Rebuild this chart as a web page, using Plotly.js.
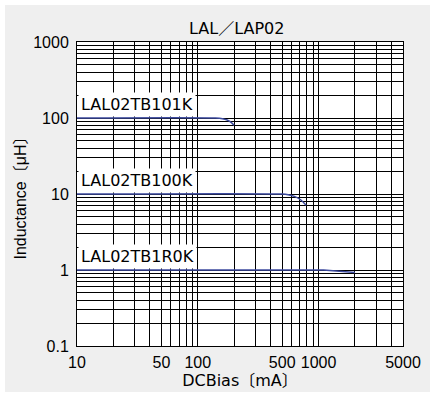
<!DOCTYPE html>
<html>
<head>
<meta charset="utf-8">
<script src="https://cdn.plot.ly/plotly-3.0.1.min.js"></script>
<style>
html,body{margin:0;padding:0;background:#ffffff;}
#chart{position:absolute;left:5px;top:5px;width:425px;height:387px;}
</style>
</head>
<body>
<div id="chart"></div>
<script>
// ---- data ----
const chartTitle = "LAL／LAP02";
const xTitle = "DCBias〔mA〕";
const yTitle = "Inductance〔μH〕";

const xTickVals = [10,20,30,40,50,60,70,80,90,100,200,300,400,500,600,700,800,900,1000,2000,3000,4000,5000];
const xTickText = ["10","","","","50","","","","","100","","","","500","","","","","1000","","","","5000"];

const yTickVals = [0.1,0.2,0.3,0.4,0.5,0.6,0.7,0.8,0.9,1,2,3,4,5,6,7,8,9,10,20,30,40,50,60,70,80,90,100,200,300,400,500,600,700,800,900,1000];
const yTickText = ["0.1","","","","","","","","","1","","","","","","","","","10","","","","","","","","","100","","","","","","","","","1000"];

const seriesNames = ["LAL02TB101K","LAL02TB100K","LAL02TB1R0K"];
const current101K = [10,140,160,175,190,200];
const induct101K  = [100,100,98,94,87,80];
const current100K = [10,500,560,630,710,790];
const induct100K  = [10,10,9.8,9.3,8.4,7.1];
const current1R0K = [10,1100,2000];
const induct1R0K  = [1,1,0.93];

// ---- chart ----
const lineColor = "#3c4a9e";
const txtFont = "DejaVu Sans, Noto Sans CJK JP, sans-serif";
const tickFont = "Liberation Sans, Arial, Noto Sans CJK JP, sans-serif";

const series = [
  {x: current101K, y: induct101K, shape: "spline"},
  {x: current100K, y: induct100K, shape: "spline"},
  {x: current1R0K, y: induct1R0K, shape: "linear"}
];

const traces = series.map((s, i) => ({
  type: "scatter", mode: "lines", name: seriesNames[i],
  x: s.x, y: s.y,
  line: {color: lineColor, width: 1.5, shape: s.shape, smoothing: 0.6},
  hoverinfo: "skip", showlegend: false
}));

const annotations = series.map((s, i) => ({
  xref: "x", yref: "y",
  x: Math.log10(s.x[0]), y: Math.log10(s.y[0]),
  xanchor: "left", yanchor: "bottom",
  xshift: 1, yshift: 1,
  text: seriesNames[i], showarrow: false,
  bgcolor: "#ffffff", borderpad: 2,
  font: {family: txtFont, size: 16, color: "#000"}
}));

const axisCommon = {
  type: "log",
  showgrid: true, gridcolor: "#000000", gridwidth: 1,
  showline: true, linecolor: "#000000", linewidth: 1, mirror: true,
  ticks: "", zeroline: false,
  tickfont: {family: tickFont, size: 16, color: "#000"},
  tickmode: "array"
};

const layout = {
  width: 425, height: 387,
  margin: {l: 72, r: 27, t: 37, b: 46},
  paper_bgcolor: "#efefef", plot_bgcolor: "#ffffff",
  title: {text: chartTitle, font: {family: txtFont, size: 16, color: "#000"},
          x: 0.49, xref: "paper", y: 0.94, yref: "container", yanchor: "middle"},
  xaxis: Object.assign({}, axisCommon, {
    range: [1, Math.log10(5000)],
    tickvals: xTickVals, ticktext: xTickText,
    ticklabelstandoff: 2,
    title: {text: xTitle, font: {family: txtFont, size: 16, color: "#000"}, standoff: 0}
  }),
  yaxis: Object.assign({}, axisCommon, {
    range: [-1, 3],
    tickvals: yTickVals, ticktext: yTickText,
    ticklabelstandoff: 4,
    title: {text: yTitle, font: {family: tickFont, size: 16, color: "#000"}, standoff: 2}
  }),
  annotations: annotations
};

Plotly.newPlot("chart", traces, layout, {displayModeBar: false, staticPlot: true});
</script>
</body>
</html>
